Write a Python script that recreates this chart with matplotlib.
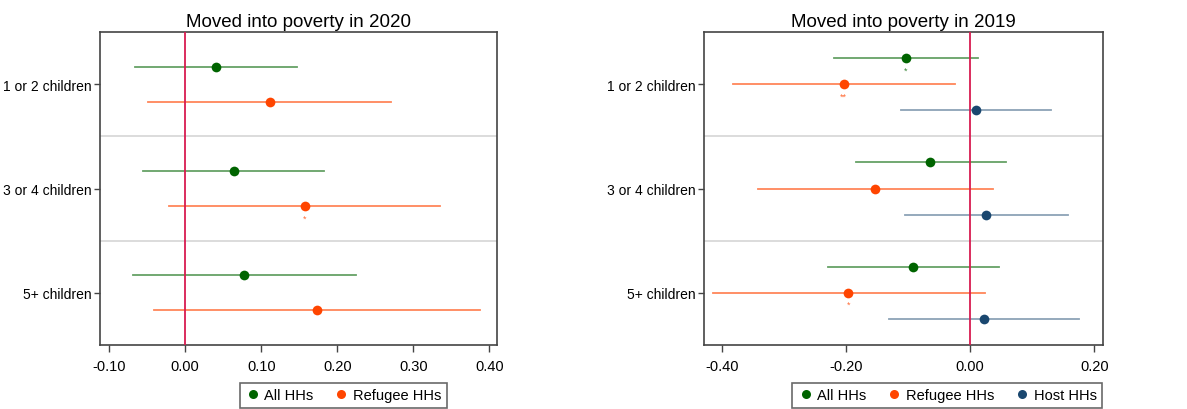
import matplotlib.pyplot as plt
from matplotlib.lines import Line2D

plt.rcParams['font.family'] = ['Liberation Sans', 'DejaVu Sans']

categories = ["1 or 2 children", "3 or 4 children", "5+ children"]

# 2020 estimates with confidence bounds
all20 = [0.041, 0.064, 0.078]
all20_lo = [-0.066, -0.056, -0.068]
all20_hi = [0.147, 0.182, 0.224]
ref20 = [0.111, 0.157, 0.174]
ref20_lo = [-0.049, -0.021, -0.041]
ref20_hi = [0.271, 0.335, 0.388]
all20_sig = ["", "", ""]
ref20_sig = ["", "*", ""]

# 2019 estimates with confidence bounds
all19 = [-0.104, -0.065, -0.092]
all19_lo = [-0.219, -0.185, -0.230]
all19_hi = [0.012, 0.057, 0.046]
ref19 = [-0.204, -0.153, -0.197]
ref19_lo = [-0.383, -0.342, -0.415]
ref19_hi = [-0.024, 0.037, 0.023]
host19 = [0.009, 0.025, 0.022]
host19_lo = [-0.112, -0.106, -0.131]
host19_hi = [0.130, 0.158, 0.175]
all19_sig = ["*", "", ""]
ref19_sig = ["**", "", "*"]
host19_sig = ["", "", ""]

green = "#006400"
orange = "#ff4500"
blue = "#1a476f"
zero_col = "#d81b50"
frame_col = "#444444"


def draw_series(ax, est, lo, hi, sig, offset, color, ci_alpha):
    for i, (e, l, h, s) in enumerate(zip(est, lo, hi, sig)):
        y = i + 1 + offset
        ax.plot([l, h], [y, y], color=color, alpha=ci_alpha, lw=1.3, zorder=2)
        ax.plot(e, y, 'o', color=color, ms=7, mec='none', zorder=4)
        if s:
            # significance stars just below the point estimate
            ax.annotate(s, (e, y), xytext=(0, -8.5), textcoords='offset points',
                        ha='center', va='center', fontsize=6.5, color=color,
                        alpha=0.8)


def style_axes(ax, title, xticks, xlim):
    ax.axvline(0, color=zero_col, lw=1.3, zorder=3)
    for yy in (1.5, 2.5):
        ax.axhline(yy, color="#dcdcdc", lw=1.4, zorder=1)
    ax.set_xlim(*xlim)
    ax.set_ylim(3.5, 0.5)
    ax.set_yticks([1, 2, 3])
    ax.set_yticklabels(categories, fontsize=10)
    ax.set_xticks(xticks)
    ax.set_xticklabels([f"{t:.2f}" for t in xticks], fontsize=10.5)
    ax.tick_params(axis='x', length=5, width=1, color=frame_col, pad=5)
    ax.tick_params(axis='y', length=4, width=1, color=frame_col, pad=2)
    for sp in ax.spines.values():
        sp.set_color(frame_col)
        sp.set_linewidth(1.2)
    ax.set_title(title, fontsize=13.5, pad=4)


fig = plt.figure(figsize=(11.87, 4.10), dpi=100)
ax1 = fig.add_axes([0.0842, 0.156, 0.3345, 0.7634])
ax2 = fig.add_axes([0.5928, 0.156, 0.3361, 0.7634])

draw_series(ax1, all20, all20_lo, all20_hi, all20_sig, -1 / 6, green, 0.6)
draw_series(ax1, ref20, ref20_lo, ref20_hi, ref20_sig, 1 / 6, orange, 0.65)
style_axes(ax1, "Moved into poverty in 2020",
           [-0.1, 0.0, 0.1, 0.2, 0.3, 0.4], (-0.112, 0.41))

draw_series(ax2, all19, all19_lo, all19_hi, all19_sig, -0.25, green, 0.6)
draw_series(ax2, ref19, ref19_lo, ref19_hi, ref19_sig, 0.0, orange, 0.65)
draw_series(ax2, host19, host19_lo, host19_hi, host19_sig, 0.25, blue, 0.5)
style_axes(ax2, "Moved into poverty in 2019",
           [-0.4, -0.2, 0.0, 0.2], (-0.43, 0.2135))


def dot(color, label):
    return Line2D([], [], marker='o', ls='none', color=color, mec='none',
                  ms=6.5, label=label)


leg_kw = dict(loc='center', ncol=3, fontsize=10.5, frameon=True, fancybox=False,
              handletextpad=0.3, columnspacing=1.4, borderpad=0.4,
              handlelength=1.0, bbox_transform=fig.transFigure)
lg1 = fig.legend(handles=[dot(green, "All HHs"), dot(orange, "Refugee HHs")],
                 bbox_to_anchor=(0.2894, 0.033), **leg_kw)
lg2 = fig.legend(handles=[dot(green, "All HHs"), dot(orange, "Refugee HHs"),
                          dot(blue, "Host HHs")],
                 bbox_to_anchor=(0.7982, 0.033), **leg_kw)
for lg in (lg1, lg2):
    lg.get_frame().set_edgecolor(frame_col)
    lg.get_frame().set_linewidth(1.2)

fig.savefig("out.png", dpi=100)
